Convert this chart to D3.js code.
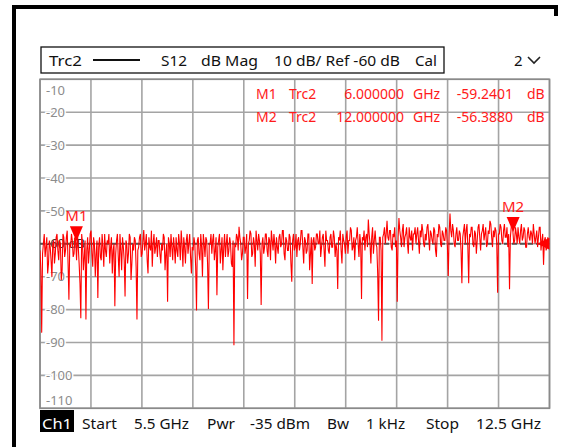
<!DOCTYPE html>
<html><head><meta charset="utf-8">
<script src="https://cdn.jsdelivr.net/npm/d3@7"></script>
<style>body{margin:0;background:#fff}svg{display:block}</style>
</head><body>
<svg id="c" width="566" height="447"></svg>
<script>
// ---- data ----
const startGHz = 5.5, stopGHz = 12.5;
const refLevel = -60;
const yTicks = [-10,-20,-30,-40,-50,-60,-70,-80,-90,-100,-110];
const xDivisions = [5.5,6.2,6.9,7.6,8.3,9.0,9.7,10.4,11.1,11.8,12.5];
const traceDb = [
 -62,-68,-87,-63,-60,-57,-64,-61,-58,-69,-66,-59,-61,-65,-70,-60,-59,-66,-63,-58,
 -57,-62,-65,-59,-60,-71,-68,-57,-58,-64,-62,-58,-56,-66,-77,-60,-61,-57,-59,-64,
 -63,-58,-59.24,-65,-57,-61,-66,-72,-82.6,-57,-60,-68,-64,-59,-83,-62,-58,-66,-62,-57,
 -56,-63,-67,-58,-60,-70,-63,-59,-76.5,-61,-58,-64,-65,-57,-61,-67,-57,-62,-64,-59,
 -60,-57,-66,-61,-58,-69,-62,-60,-79,-63,-59,-57,-64,-70,-57,-62,-68,-58,-61,-65,
 -76,-59,-60,-66,-63,-57,-58,-71,-66,-60,-62,-58,-59,-67,-83,-62,-61,-58,-57,-64,
 -63,-59,-55.8,-62,-60,-57,-65,-69,-58,-61,-62,-56,-67,-60,-57,-63,-61,-58,-64,-59,
 -59,-63,-66,-60,-62,-57,-58,-68,-63,-60,-77.6,-58,-60,-64,-57,-61,-65,-58,-61,-66,
 -58,-62,-64,-57,-60,-65,-56,-60,-67,-58,-61,-66,-59,-57,-63,-60,-57,-64,-69,-61,
 -62,-58,-60,-67,-80.3,-59,-58,-63,-65,-57,-61,-70,-57,-60,-64,-58,-59,-66,-79.8,-60,
 -60,-57,-63,-59,-57,-65,-62,-58,-75.6,-61,-59,-57,-66,-62,-58,-68,-61,-57,-64,-60,
 -57,-64,-62,-58,-60,-66,-67,-59,-90.8,-60,-61,-57,-58,-62,-54.8,-58,-60,-65,-63,-58,
 -58,-63,-61,-57,-76.8,-60,-59,-56,-57,-64,-63,-58,-60,-67,-56,-59,-62,-57,-59,-63,
 -78.6,-60,-58,-63,-61,-57,-57,-62,-64,-58,-59,-65,-56,-59,-62,-57,-60,-66,-58,-61,
 -63,-58,-57,-61,-60,-56,-56,-63,-65,-58,-59,-62,-62,-57,-58,-66,-71.5,-59,-57,-62,
 -61,-57,-64,-59,-58,-62,-60,-56,-56,-61,-66,-58,-59,-63,-62,-57,-57,-68,-63,-58,
 -72.2,-59,-58,-62,-61,-57,-57,-60,-60,-56,-64,-61,-58,-57,-62,-67,-56,-59,-59,-62,
 -63,-58,-57,-61,-61,-56,-58,-64,-60,-62,-73.7,-58,-59,-56,-62,-66,-57,-59,-60,-63,
 -58,-56,-63,-59,-59,-55,-56,-62,-61,-58,-65,-59,-58,-55,-60,-64,-57,-60,-76.8,-58,
 -59,-56,-62,-58,-57,-61,-52.6,-57,-60,-66,-58,-55,-63,-59,-56,-60,-61,-69,-83.4,-58,
 -58,-62,-89.5,-58,-57,-55,-60,-57,-53,-58,-59,-56,-56,-61,-62,-57,-58,-55,-61,-59,
 -77.6,-58,-52.2,-56,-58,-61,-56,-54,-61,-58,-57,-55,-60,-63,-55,-58,-59,-56,-62,-57,
 -57,-55,-60,-57,-55,-59,-63,-56,-58,-54,-56,-60,-61,-57,-59,-55,-54,-58,-62,-56,
 -57,-59,-60,-55,-56,-62,-64,-57,-58,-54,-55,-60,-61,-56,-57,-59,-59,-55,-56,-61,
 -69.8,-57,-50.8,-56,-58,-54,-56,-60,-61,-57,-55,-59,-59,-56,-57,-62,-72,-58,-56,-54,
 -60,-56,-54,-61,-72,-57,-58,-55,-55,-60,-61,-56,-57,-63,-59,-55,-54,-58,-62,-57,
 -56,-54,-59,-57,-55,-61,-60,-56,-57,-53,-54,-58,-61,-56,-58,-55,-56,-60,-74.9,-57,
 -57,-54,-55,-59,-60,-56,-54,-58,-58,-55,-61,-57,-73.8,-58,-55,-53,-56.388,-60,-59,-55,
 -57,-60,-55,-58,-60,-56,-54,-59,-58,-55,-56,-61,-61,-57,-55,-58,-59,-56,-57,-60,
 -54,-57,-60,-58,-56,-61,-58,-55,-55,-62,-59,-57,-66.4,-59,-58,-62,-61,-58,-60,-60
];
const markerNames = ["M1","M2"];
const markerFreqs = [6.0, 12.0];
const markerValues = [-59.2401, -56.3880];
const markerFreqText = ["6.000000","12.000000"];
const markerValueText = ["-59.2401","-56.3880"];
const headerItems = [["Trc2",49,33],["S12",161,26],["dB Mag",201,57],["10 dB/ Ref -60 dB",274,126],["Cal",415,22]];
const footerItems = [["Start",82,35],["5.5 GHz",134,55],["Pwr",207,28],["-35 dBm",250,60],["Bw",327,22],["1 kHz",366,39],["Stop",426,33],["12.5 GHz",476,65]];

// ---- drawing ----
const svg = d3.select("#c");
const FONT = "'Noto Sans', 'DejaVu Sans', sans-serif";
const L = 40, R = 549.5, T = 79.3, B = 408.3;
const x = d3.scaleLinear().domain([startGHz, stopGHz]).range([L, R]);
const y = d3.scaleLinear().domain([-10, -110]).range([T, B]);
const freqs = traceDb.map((d,i) => startGHz + i*(stopGHz-startGHz)/(traceDb.length-1));

svg.append("rect").attr("width",566).attr("height",447).attr("fill","#fff");

// outer black frame
svg.append("path").attr("d","M14,447 L14,7 L556,7 L556,16")
  .attr("fill","none").attr("stroke","#000").attr("stroke-width",4);

// header legend box
svg.append("rect").attr("x",41).attr("y",47).attr("width",403).attr("height",26)
  .attr("fill","none").attr("stroke","#111").attr("stroke-width",1.3);
svg.selectAll("text.hdr").data(headerItems).join("text").attr("class","hdr")
  .attr("x",d=>d[1]).attr("y",66).text(d=>d[0])
  .attr("textLength",d=>d[2]).attr("lengthAdjust","spacingAndGlyphs")
  .attr("font-family",FONT).attr("font-size",15).attr("fill","#111");
svg.append("line").attr("x1",93).attr("x2",140).attr("y1",60).attr("y2",60)
  .attr("stroke","#111").attr("stroke-width",2);
svg.append("text").attr("x",514).attr("y",66).text("2")
  .attr("font-family",FONT).attr("font-size",15).attr("fill","#111");
svg.append("path").attr("d","M528,57 L534,63 L540,57").attr("fill","none")
  .attr("stroke","#222").attr("stroke-width",1.6);

// grid
const g = svg.append("g");
g.selectAll("line.v").data(xDivisions).join("line").attr("class","v")
  .attr("x1",d=>x(d)).attr("x2",d=>x(d)).attr("y1",T).attr("y2",B)
  .attr("stroke","#a4a4a4").attr("stroke-width",1.6);
g.selectAll("line.h").data(yTicks).join("line").attr("class","h")
  .attr("x1",L).attr("x2",R).attr("y1",d=>y(d)).attr("y2",d=>y(d))
  .attr("stroke","#a4a4a4").attr("stroke-width",1.6);
g.append("rect").attr("x",L).attr("y",T).attr("width",R-L).attr("height",B-T)
  .attr("fill","none").attr("stroke","#8a8a8a").attr("stroke-width",1.6);

// y labels
g.selectAll("text.yl").data(yTicks.filter(v=>v!==refLevel)).join("text").attr("class","yl")
  .attr("x",46)
  .attr("y",d=> d===-10 ? y(d)+11 : (d===-110 ? y(d)-8 : y(d)))
  .attr("dy","0.36em").text(d=>d)
  .attr("font-family",FONT).attr("font-size",13).attr("fill","#8c8c8c")
  .attr("stroke","#fff").attr("stroke-width",3).attr("paint-order","stroke");
g.append("text").attr("x",46).attr("y",y(refLevel)).attr("dy","0.36em")
  .text(refLevel+" dB").attr("font-family",FONT).attr("font-size",13).attr("fill","#333");

// reference line
svg.append("line").attr("x1",L).attr("x2",R).attr("y1",y(refLevel)).attr("y2",y(refLevel))
  .attr("stroke","#555").attr("stroke-width",2).attr("stroke-dasharray","5,3");

// marker readout
const rd = svg.append("g").attr("fill","#ff1a1a").attr("font-family",FONT).attr("font-size",14);
markerNames.forEach((m,i)=>{
  const by = 99 + i*22.5;
  rd.append("text").attr("x",256).attr("y",by).text(m);
  rd.append("text").attr("x",289).attr("y",by).text("Trc2");
  rd.append("text").attr("x",404).attr("y",by).attr("text-anchor","end").text(markerFreqText[i]);
  rd.append("text").attr("x",413).attr("y",by).text("GHz");
  rd.append("text").attr("x",513).attr("y",by).attr("text-anchor","end").text(markerValueText[i]);
  rd.append("text").attr("x",527).attr("y",by).text("dB");
});

// trace
svg.append("clipPath").attr("id","pc").append("rect")
  .attr("x",L).attr("y",T).attr("width",R-L).attr("height",B-T);
const line = d3.line().x((d,i)=>x(freqs[i])).y(d=>y(d));
svg.append("path").datum(traceDb).attr("d",line).attr("clip-path","url(#pc)")
  .attr("fill","none").attr("stroke","#ff0000").attr("stroke-width",1.1)
  .attr("stroke-linejoin","miter");

// markers
markerNames.forEach((m,i)=>{
  const px = x(markerFreqs[i]), py = y(markerValues[i]);
  svg.append("path").attr("d",`M${px-6.5},${py-15} L${px+6.5},${py-15} L${px},${py} Z`)
    .attr("fill","#ff0000");
  svg.append("text").attr("x",px).attr("y",py-20).attr("text-anchor","middle")
    .text(m).attr("font-family",FONT).attr("font-size",15).attr("fill","#ff1a1a");
});
// reference arrow
svg.append("path").attr("d",`M${R},${y(refLevel)-6} L${R},${y(refLevel)+6} L${R-12},${y(refLevel)} Z`)
  .attr("fill","#ff0000");

// footer
svg.append("rect").attr("x",40).attr("y",410).attr("width",34).attr("height",22).attr("fill","#000");
svg.append("text").attr("x",42).attr("y",429).text("Ch1").attr("textLength",30)
  .attr("lengthAdjust","spacingAndGlyphs").attr("font-family",FONT).attr("font-size",15).attr("fill","#fff");
svg.selectAll("text.ftr").data(footerItems).join("text").attr("class","ftr")
  .attr("x",d=>d[1]).attr("y",429).text(d=>d[0])
  .attr("textLength",d=>d[2]).attr("lengthAdjust","spacingAndGlyphs")
  .attr("font-family",FONT).attr("font-size",15).attr("fill","#111");
</script>
</body></html>
